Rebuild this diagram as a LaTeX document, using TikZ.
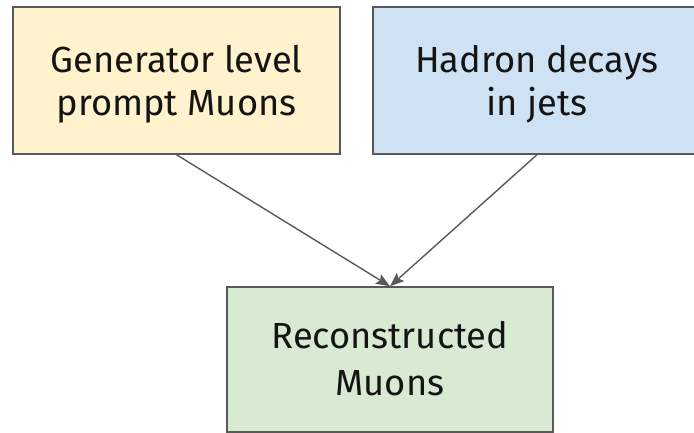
\documentclass[tikz,border=0pt]{standalone}
\usepackage{fontspec}
\setmainfont{Fira Sans}
\usetikzlibrary{arrows.meta}
\definecolor{edge}{HTML}{595959}
\definecolor{fillA}{HTML}{FFF2CC}
\definecolor{fillB}{HTML}{CFE2F3}
\definecolor{fillC}{HTML}{D9EAD3}
\begin{document}
\begin{tikzpicture}[x=1pt,y=-1pt,
  block/.style={draw=edge, line width=1.4pt, rectangle, inner sep=0pt},
  blocktext/.style={align=center, text=black!92, inner sep=0pt,
    font=\fontsize{36.3}{42.7}\selectfont},
  link/.style={draw=edge, line width=1.4pt,
    -{Stealth[length=14pt,width=11pt,inset=2.5pt]}}]
  \useasboundingbox (0,0) rectangle (694,433);
  \clip (0,0) rectangle (694,433);
  % source boxes
  \node[block, fill=fillA, minimum width=327pt, minimum height=147pt,
    label={[blocktext, yshift=-3.5pt]center:{Generator level\\prompt Muons}}]
    (gen) at (176.5,80.5) {};
  \node[block, fill=fillB, minimum width=328pt, minimum height=147pt,
    label={[blocktext, yshift=-3.5pt]center:{Hadron decays\\in jets}}]
    (had) at (537,80.5) {};
  % target box
  \node[block, fill=fillC, minimum width=326pt, minimum height=145pt,
    label={[blocktext, font=\fontsize{36.3}{46.7}\selectfont, yshift=1.2pt]center:{Reconstructed\\Muons}}]
    (reco) at (390,359.5) {};
  % connectors
  \draw[link] (gen.south) -- (reco.north);
  \draw[link] (had.south) -- (reco.north);
\end{tikzpicture}
\end{document}
